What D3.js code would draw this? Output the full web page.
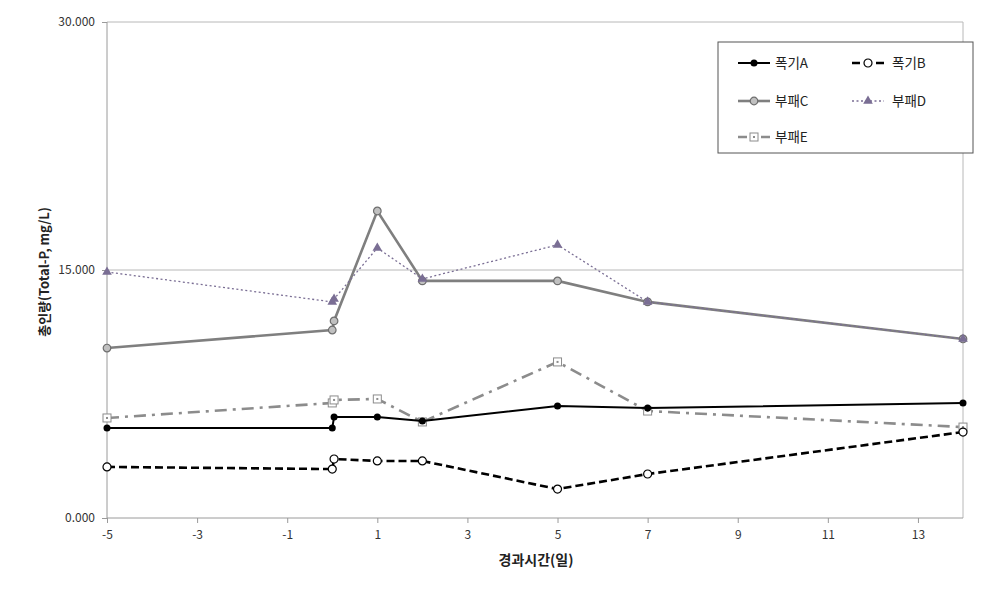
<!DOCTYPE html>
<html>
<head>
<meta charset="utf-8">
<script src="https://cdn.jsdelivr.net/npm/d3@7"></script>
<style>
  body { margin: 0; background: #fff; }
  text { font-family: "Noto Sans CJK KR", "Noto Sans", sans-serif; }
</style>
</head>
<body>
<svg id="chart"></svg>
<script>
// days elapsed (two samples were taken on day 0)
const days = [-5, 0, 0.04, 1, 2, 5, 7, 14];

const seriesA = [5.44, 5.44, 6.11, 6.11, 5.87, 6.78, 6.65, 6.96];
const seriesB = [3.09, 2.96, 3.57, 3.45, 3.45, 1.75, 2.66, 5.20];
const seriesC = [10.28, 11.37, 11.92, 18.57, 14.34, 14.34, 13.07, 10.83];
const seriesD = [14.88, 13.07, 13.25, 16.33, 14.46, 16.52, 13.07, 10.83];
const seriesE = [6.05, 6.96, 7.14, 7.20, 5.81, 9.44, 6.47, 5.50];

const xTicks = [-5, -3, -1, 1, 3, 5, 7, 9, 11, 13];
const yTicks = [0, 15, 30];

const seriesNames = ["폭기A", "폭기B", "부패C", "부패D", "부패E"];

const W = 981, H = 603;
const margin = { top: 22, right: 18, bottom: 85, left: 107 };
const width = W - margin.left - margin.right;
const height = H - margin.top - margin.bottom;

const svg = d3.select("#chart").attr("width", W).attr("height", H);
const g = svg.append("g").attr("transform", `translate(${margin.left},${margin.top})`);

const x = d3.scaleLinear().domain([-5, 14]).range([0, width]);
const y = d3.scaleLinear().domain([0, 30]).range([height, 0]);

// gridlines
g.selectAll(".grid")
  .data(yTicks.filter((t) => t > 0))
  .enter()
  .append("line")
  .attr("x1", 0)
  .attr("x2", width)
  .attr("y1", (d) => y(d))
  .attr("y2", (d) => y(d))
  .attr("stroke", "#b8b8b8")
  .attr("stroke-width", 1);

// right border of plot area
g.append("line")
  .attr("x1", width).attr("x2", width)
  .attr("y1", 0).attr("y2", height)
  .attr("stroke", "#b8b8b8");

// axes
const xAxis = g.append("g")
  .attr("transform", `translate(0,${height})`)
  .call(d3.axisBottom(x).tickValues(xTicks).tickSize(5).tickPadding(7).tickFormat((d) => String(d)));
const yAxis = g.append("g")
  .call(d3.axisLeft(y).tickValues(yTicks).tickSize(5).tickPadding(7).tickFormat(d3.format(".3f")));

[xAxis, yAxis].forEach((a) => {
  a.select(".domain").attr("stroke", "#9a9a9a");
  a.selectAll(".tick line").attr("stroke", "#9a9a9a");
  a.selectAll(".tick text")
    .attr("fill", "#333")
    .style("font-size", "12px")
    .style("font-family", "'Noto Sans CJK KR', 'Noto Sans', sans-serif");
});
xAxis.select(".domain").attr("d", `M0,0H${width}`);
yAxis.select(".domain").attr("d", `M0,${height}V0`);

// axis titles
svg.append("text")
  .attr("x", 536)
  .attr("y", 565)
  .attr("text-anchor", "middle")
  .style("font-size", "14px")
  .style("font-weight", "bold")
  .attr("fill", "#222")
  .text("경과시간(일)");

svg.append("text")
  .attr("transform", "translate(49,272) rotate(-90)")
  .attr("text-anchor", "middle")
  .style("font-size", "13px")
  .style("font-weight", "bold")
  .attr("fill", "#222")
  .text("총인량(Total-P, mg/L)");

// series styles
const styles = [
  { values: seriesA, stroke: "#000", width: 2, dash: null, marker: "dot" },
  { values: seriesB, stroke: "#000", width: 2.6, dash: "8,4", marker: "open" },
  { values: seriesC, stroke: "#7f7f7f", width: 2.6, dash: null, marker: "greycircle" },
  { values: seriesD, stroke: "#7a6e94", width: 1.3, dash: "2,2.5", marker: "triangle" },
  { values: seriesE, stroke: "#8c8c8c", width: 2.6, dash: "12,6,3,6", marker: "square" }
];

const line = d3.line().x((d) => x(d[0])).y((d) => y(d[1]));

function drawMarker(sel, kind) {
  if (kind === "dot") {
    sel.append("circle").attr("r", 3.5).attr("fill", "#000");
  } else if (kind === "open") {
    sel.append("circle").attr("r", 4).attr("fill", "#fff").attr("stroke", "#000").attr("stroke-width", 1.2);
  } else if (kind === "greycircle") {
    sel.append("circle").attr("r", 3.8).attr("fill", "#c0c0c0").attr("stroke", "#6e6e6e").attr("stroke-width", 1.2);
  } else if (kind === "triangle") {
    sel.append("path").attr("d", d3.symbol().type(d3.symbolTriangle).size(40)).attr("fill", "#7a6e94");
  } else if (kind === "square") {
    sel.append("rect").attr("x", -4).attr("y", -4).attr("width", 8).attr("height", 8)
      .attr("fill", "#fff").attr("stroke", "#8c8c8c").attr("stroke-width", 1);
    sel.append("rect").attr("x", -1).attr("y", -1).attr("width", 2).attr("height", 2).attr("fill", "#8c8c8c");
  }
}

// draw C and D first, then E, A, B on top
[2, 3, 4, 0, 1].forEach((i) => {
  const s = styles[i];
  const pts = days.map((d, j) => [d, s.values[j]]);
  g.append("path")
    .datum(pts)
    .attr("d", line)
    .attr("fill", "none")
    .attr("stroke", s.stroke)
    .attr("stroke-width", s.width)
    .attr("stroke-dasharray", s.dash);
  g.selectAll(null)
    .data(pts)
    .enter()
    .append("g")
    .attr("transform", (d) => `translate(${x(d[0])},${y(d[1])})`)
    .each(function () { drawMarker(d3.select(this), s.marker); });
});

// legend
const legend = svg.append("g").attr("transform", "translate(718,42)");
legend.append("rect")
  .attr("width", 255).attr("height", 111)
  .attr("fill", "#fff").attr("stroke", "#555").attr("stroke-width", 1);

const legendPos = [[20, 21], [134, 21], [20, 59], [134, 59], [20, 95]];
seriesNames.forEach((name, i) => {
  const s = styles[i];
  const lg = legend.append("g").attr("transform", `translate(${legendPos[i][0]},${legendPos[i][1]})`);
  lg.append("line")
    .attr("x1", 0).attr("x2", 32)
    .attr("stroke", s.stroke)
    .attr("stroke-width", s.width)
    .attr("stroke-dasharray", i === 4 ? "9,14" : s.dash);
  const m = lg.append("g").attr("transform", "translate(16,0)");
  drawMarker(m, s.marker);
  lg.append("text")
    .attr("x", i % 2 === 0 ? 37 : 40)
    .attr("y", 0)
    .attr("dy", "0.35em")
    .style("font-size", "13.5px")
    .attr("fill", "#222")
    .text(name);
});
</script>
</body>
</html>
